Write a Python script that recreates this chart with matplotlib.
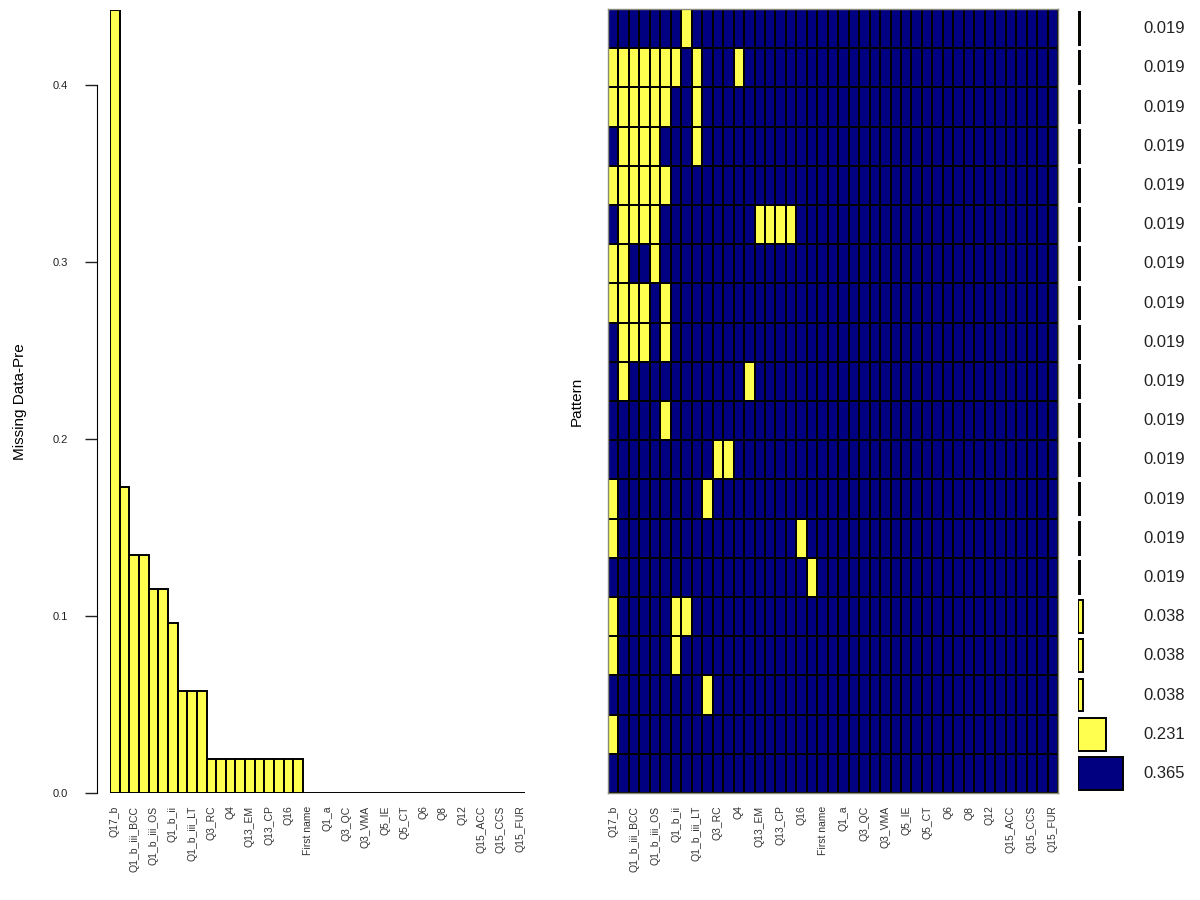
import numpy as np
import matplotlib
matplotlib.use('Agg')
import matplotlib.pyplot as plt
from matplotlib.colors import ListedColormap

plt.rcParams['font.family'] = ['Liberation Sans', 'DejaVu Sans']

# %% data: missing-data patterns (VIM aggr style)
n_obs = 52
n_vars = 43
# labels that are visible on the x axis (every second variable)
shown_labels = ['Q17_b', 'Q1_b_iii_BCC', 'Q1_b_iii_OS', 'Q1_b_ii', 'Q1_b_iii_LT',
                'Q3_RC', 'Q4', 'Q13_EM', 'Q13_CP', 'Q16', 'First name', 'Q1_a',
                'Q3_QC', 'Q3_VMA', 'Q5_IE', 'Q5_CT', 'Q6', 'Q8', 'Q12',
                'Q15_ACC', 'Q15_CCS', 'Q15_FUR']
# missing columns (1-based) of each pattern, top row first
patterns = [
    [8],
    [1, 2, 3, 4, 5, 6, 7, 9, 13],
    [1, 2, 3, 4, 5, 6, 9],
    [2, 3, 4, 5, 9],
    [1, 2, 3, 4, 5, 6],
    [2, 3, 4, 5, 15, 16, 17, 18],
    [1, 2, 5],
    [1, 2, 3, 4, 6],
    [2, 3, 4, 6],
    [2, 14],
    [6],
    [11, 12],
    [1, 10],
    [1, 19],
    [20],
    [1, 7, 8],
    [1, 7],
    [10],
    [1],
    [],
]
pattern_counts = [1, 1, 1, 1, 1, 1, 1, 1, 1, 1, 1, 1, 1, 1, 1, 2, 2, 2, 12, 19]

navy = '#000080'
yellow = '#ffff50'

# %% build matrix and proportions
mat = np.zeros((len(patterns), n_vars))
for r, cols in enumerate(patterns):
    for c in cols:
        mat[r, c - 1] = 1
counts = np.array(pattern_counts)
var_missing = (mat * counts[:, None]).sum(axis=0) / n_obs
pattern_prop = counts / n_obs


def rect(x0, y0, x1, y1):
    '''pixel box (top-left origin) -> figure fraction'''
    return [x0 / 1200, 1 - y1 / 900, (x1 - x0) / 1200, (y1 - y0) / 900]


fig = plt.figure(figsize=(12, 9), dpi=100)
tick_pos = np.arange(0, n_vars, 2) + 0.5

# %% left: proportion of missings per variable
ax1 = fig.add_axes(rect(110, 10, 525, 793))
ax1.bar(np.arange(n_vars), var_missing, width=1, align='edge',
        color=yellow, edgecolor='black', linewidth=1.4)
ax1.set_xlim(0, n_vars)
ax1.set_ylim(0, 0.4424)
ax1.set_yticks([0, 0.1, 0.2, 0.3, 0.4])
ax1.set_yticklabels(['0.0', '0.1', '0.2', '0.3', '0.4'], rotation=90, va='center')
ax1.tick_params(axis='y', length=9, width=1, pad=12, labelsize=8, colors='#222222')
for s in ['top', 'right', 'bottom']:
    ax1.spines[s].set_visible(False)
ax1.spines['left'].set_position(('outward', 9.4))
ax1.spines['left'].set_bounds(0, 0.4)
ax1.set_xticks(tick_pos)
ax1.set_xticklabels(shown_labels, rotation=90, fontsize=7.5, color='#333333')
ax1.tick_params(axis='x', length=0, pad=9)
ax1.set_ylabel('Missing Data-Pre', fontsize=11)
ax1.yaxis.set_label_coords(-0.2, 0.5)

# %% middle: pattern grid
ax2 = fig.add_axes(rect(608, 9, 1058, 793))
ax2.pcolormesh(np.arange(n_vars + 1), np.arange(len(patterns) + 1), mat,
               cmap=ListedColormap([navy, yellow]), vmin=0, vmax=1,
               edgecolors='black', linewidth=1.4)
ax2.set_xlim(0, n_vars)
ax2.set_ylim(len(patterns), 0)
ax2.set_yticks([])
ax2.set_xticks(tick_pos)
ax2.set_xticklabels(shown_labels, rotation=90, fontsize=7.5, color='#333333')
ax2.tick_params(axis='x', length=0, pad=9)
for s in ax2.spines.values():
    s.set_color('#8a8a7a')
    s.set_linewidth(1)
ax2.set_ylabel('Pattern', fontsize=11)
ax2.yaxis.set_label_coords(-0.053, 0.5)

# %% right: pattern frequencies
ax3 = fig.add_axes(rect(1078, 9, 1200, 793))
bar_cols = [yellow if len(p) > 0 else navy for p in patterns]
rows = np.arange(len(patterns)) + 0.5
ax3.barh(rows, pattern_prop, height=1 / 1.2, color=bar_cols,
         edgecolor='black', linewidth=1.4)
ax3.set_xlim(0, 0.99)
ax3.set_ylim(len(patterns), 0)
ax3.axis('off')
for r, p in zip(rows, pattern_prop):
    ax3.text(0.535, r, '{:.3f}'.format(p), transform=ax3.get_yaxis_transform(),
             ha='left', va='center', fontsize=12, color='#222222')

fig.savefig('out.png', dpi=100)
